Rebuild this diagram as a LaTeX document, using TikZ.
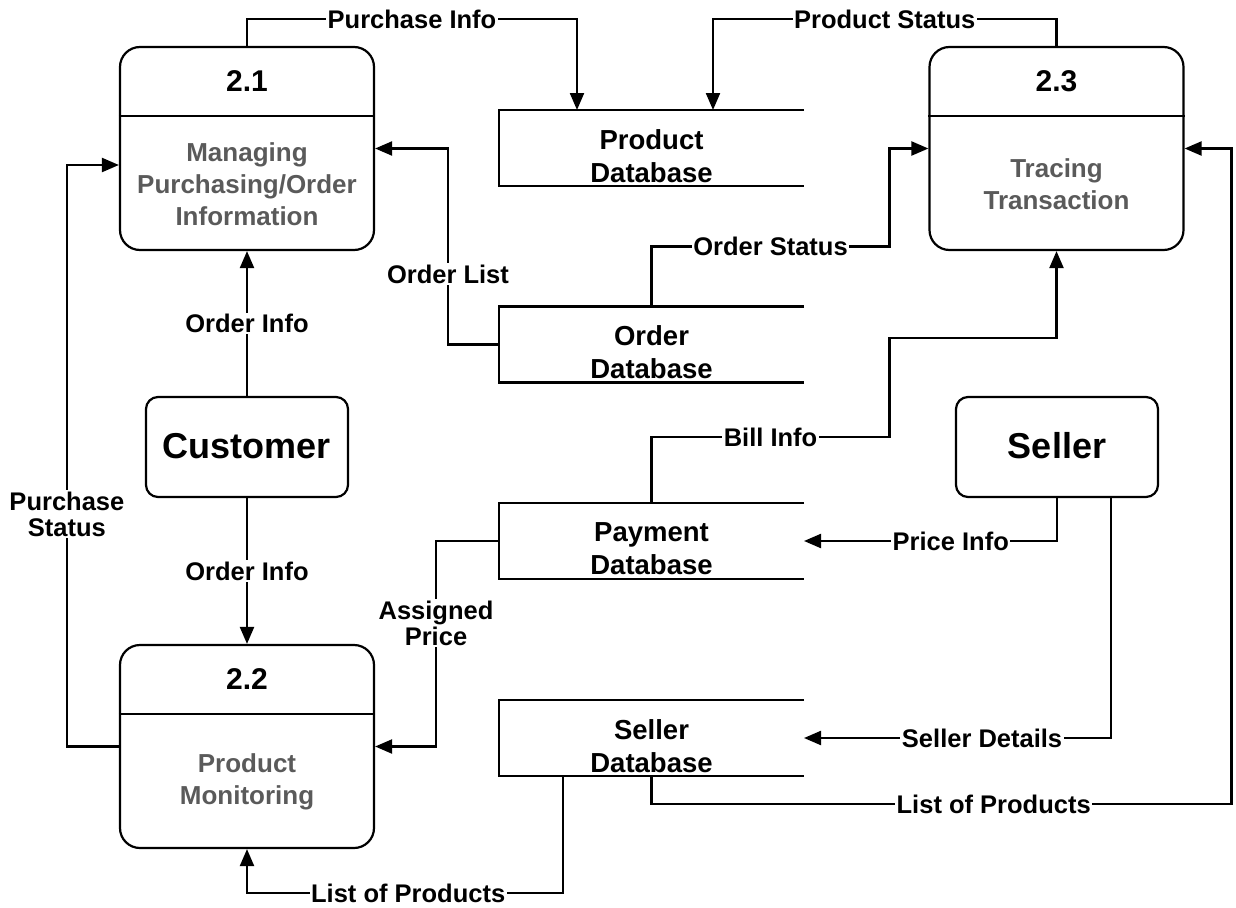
\documentclass[tikz,border=0pt]{standalone}
\usepackage{fontspec}
\setmainfont{Liberation Sans}
\usetikzlibrary{arrows.meta,positioning}
\definecolor{bodygray}{RGB}{90,90,90}
\begin{document}
\begin{tikzpicture}[x=1pt,y=-1pt,line width=2.2pt,
  proc/.style={draw,rounded corners=20pt,minimum width=254pt,minimum height=203pt},
  ext/.style={draw,rounded corners=12pt,minimum width=202pt,minimum height=100pt,font=\fontsize{36}{40}\selectfont\bfseries},
  store/.style={outer sep=0pt,minimum width=305pt,minimum height=76pt},
  storetxt/.style={align=center,font=\fontsize{27.5}{33}\selectfont\bfseries},
  num/.style={font=\fontsize{30}{32}\selectfont\bfseries},
  body/.style={align=center,text=bodygray,font=\fontsize{26}{32}\selectfont\bfseries},
  lbl/.style={fill=white,inner sep=1.5pt,align=center,font=\fontsize{25.5}{26}\selectfont\bfseries},
  flow/.style={-{Triangle[length=17pt,width=14pt]}}]
\useasboundingbox (0,0) rectangle (1236,907);
% processes
\node[proc] (p21) at (247,148.5) {};
\draw ([yshift=-70pt]p21.north west) -- ([yshift=-70pt]p21.north east);
\node[num] (n21) at ([yshift=-35pt]p21.north) {2.1};
\node[body] (b21) at ([yshift=-35.5pt]p21.center) {Managing\\Purchasing/Order\\Information};
\node[proc] (p23) at (1056.5,148.5) {};
\draw ([yshift=-70pt]p23.north west) -- ([yshift=-70pt]p23.north east);
\node[num] (n23) at ([yshift=-35pt]p23.north) {2.3};
\node[body] (b23) at ([yshift=-35.5pt]p23.center) {Tracing\\Transaction};
\node[proc] (p22) at (247,746.5) {};
\draw ([yshift=-70pt]p22.north west) -- ([yshift=-70pt]p22.north east);
\node[num] (n22) at ([yshift=-35pt]p22.north) {2.2};
\node[body] (b22) at ([yshift=-35.5pt]p22.center) {Product\\Monitoring};
% entities
\node[ext] (cust) at (247,447) {\raisebox{3pt}{Customer}};
\node[ext] (seller) at (1057,447) {\raisebox{3pt}{Seller}};
% data stores
\node[store] (pdb) at (651.5,148) {};
\node[store] (odb) at (651.5,344.5) {};
\node[store] (paydb) at (651.5,541) {};
\node[store] (sdb) at (651.5,738) {};
\foreach \s in {pdb,odb,paydb,sdb}
  \draw (\s.north east) -- (\s.north west) -- (\s.south west) -- (\s.south east);
\node[storetxt] (pdbt) at ([yshift=-8pt]pdb.center) {Product\\Database};
\node[storetxt] (odbt) at ([yshift=-8pt]odb.center) {Order\\Database};
\node[storetxt] (paydbt) at ([yshift=-8pt]paydb.center) {Payment\\Database};
\node[storetxt] (sdbt) at ([yshift=-8pt]sdb.center) {Seller\\Database};
% flows
\draw[flow] (p21.north) -- ++(0,-27) -| node[lbl,pos=0.25] {Purchase Info} ([xshift=-74.5pt]pdb.north);
\draw[flow] (p23.north) -- ++(0,-27) -| node[lbl,pos=0.25] {Product Status} ([xshift=61.5pt]pdb.north);
\draw[flow] (odb.west) -- ++(-51,0) |- node[lbl,pos=0.18] {Order List} (p21.east);
\draw[flow] (cust.north) -- node[lbl,midway] {Order Info} (p21.south);
\draw[flow] (cust.south) -- node[lbl,midway] {Order Info} (p22.north);
\draw[flow] (odb.north) -- ++(0,-60) -- node[lbl,midway] {Order Status} ++(238,0) |- (p23.west);
\draw[flow] (paydb.north) -- ++(0,-66) -- node[lbl,midway] {Bill Info} ++(238,0) -- ++(0,-99) -| (p23.south);
\draw[flow] (p22.west) -- ++(-52,0) |- node[lbl,pos=0.2] {Purchase\\Status} ([yshift=-16.5pt]p21.west);
\draw[flow] (paydb.west) -- ++(-63,0) |- node[lbl,pos=0.2] {Assigned\\Price} (p22.east);
\draw[flow] (seller.south) |- node[lbl,pos=0.71] {Price Info} (paydb.east);
\draw[flow] ([xshift=54pt]seller.south) |- node[lbl,pos=0.71] {Seller Details} (sdb.east);
\draw[flow] (sdb.south) -- ++(0,28) -- node[lbl,pos=0.59] {List of Products} ++(580,0) |- (p23.east);
\draw[flow] ([xshift=-88.5pt]sdb.south) -- ++(0,117) -| node[lbl,pos=0.245] {List of Products} (p22.south);
\end{tikzpicture}
\end{document}
